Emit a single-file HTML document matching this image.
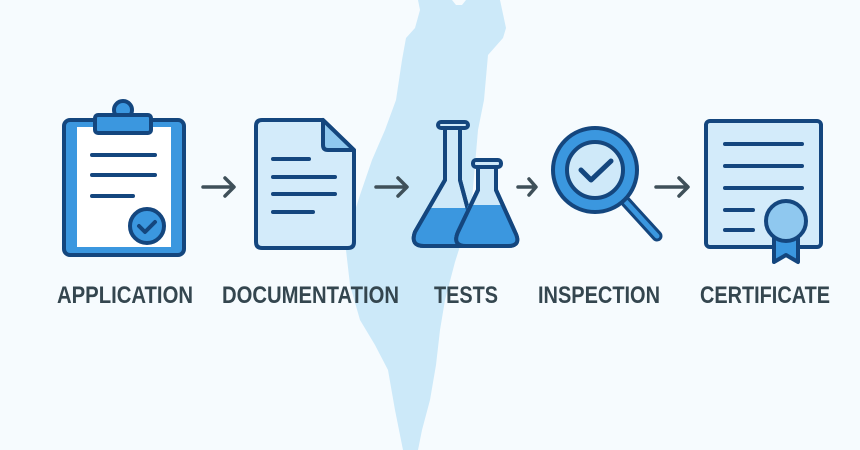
<!DOCTYPE html>
<html><head><meta charset="utf-8"><style>
html,body{margin:0;padding:0;background:#f6fbfe;}
svg{display:block}
text{font-family:"Liberation Sans",sans-serif;font-weight:bold;fill:#34464f;font-size:24px}
</style></head><body>
<svg width="860" height="450" viewBox="0 0 860 450" xmlns="http://www.w3.org/2000/svg">
<rect width="860" height="450" fill="#f6fbfe"/>
<path d="M418,0 L452,0 L456,5 L462,5 L466,0 L500,0 L506,28 L503,38 L488,55 L484,100 L478,130 L472,200 L462,240 L455,262 L445,300 L440,330 L436,365 L430,400 L422,430 L418,450 L403,450 L395,410 L388,370 L375,345 L360,320 L350,285 L346,250 L352,220 L360,195 L372,160 L385,130 L396,100 L402,60 L406,38 L415,28 L420,10 Z" fill="#cce9f9"/>
<g stroke="#14467e" stroke-width="4" stroke-linecap="round" stroke-linejoin="round">
<rect x="64" y="120" width="120" height="135" rx="6" fill="#3b97df"/>
<rect x="77" y="127" width="94" height="120" fill="#ffffff" stroke="none"/>
<circle cx="123" cy="110" r="9" fill="#3b97df"/>
<rect x="95" y="115" width="56" height="18" rx="3" fill="#3b97df"/>
<line x1="92" y1="155" x2="155" y2="155"/>
<line x1="92" y1="175" x2="155" y2="175"/>
<line x1="92" y1="196" x2="133" y2="196"/>
<circle cx="147" cy="226" r="17" fill="#3b97df"/>
<path d="M139,226 L145,232 L155,222" fill="none"/>
<path d="M262,120 L323,120 L354,150 L354,242 Q354,248 348,248 L262,248 Q256,248 256,242 L256,126 Q256,120 262,120 Z" fill="#d3ebfa"/>
<path d="M323,120 L323,145 Q323,150 328,150 L354,150 Z" fill="#8fc8ef"/>
<line x1="273" y1="159" x2="309" y2="159"/>
<line x1="273" y1="177" x2="335" y2="177"/>
<line x1="273" y1="194" x2="335" y2="194"/>
<line x1="273" y1="212" x2="313" y2="212"/>
<path d="M445,127 L445,180 L415,232 Q410,246 424,246 L468,246 Q480,246 474,232 L460,180 L460,127" fill="#cfe9f9"/>
<path d="M436,208 L469,208 L474,232 Q480,246 468,246 L424,246 Q410,246 415,232 L428,208 Z" fill="#3b97df" stroke="none"/>
<path d="M445,127 L445,180 L415,232 Q410,246 424,246 L468,246 Q480,246 474,232 L460,180 L460,127" fill="none"/>
<rect x="438" y="122" width="30" height="6" rx="3" fill="#cfe9f9"/>
<path d="M478,166 L478,190 L458,232 Q452,246 466,246 L508,246 Q522,246 515,232 L496,190 L496,166" fill="#cfe9f9"/>
<path d="M468,205 L503,205 L515,232 Q522,246 508,246 L466,246 Q452,246 458,232 Z" fill="#3b97df" stroke="none"/>
<path d="M478,166 L478,190 L458,232 Q452,246 466,246 L508,246 Q522,246 515,232 L496,190 L496,166" fill="none"/>
<rect x="473" y="160" width="28" height="7" rx="3" fill="#cfe9f9"/>
<line x1="626" y1="202" x2="657" y2="236" stroke-width="11"/>
<line x1="626" y1="202" x2="657" y2="236" stroke="#3b97df" stroke-width="5"/>
<circle cx="595" cy="170" r="42" fill="#3b97df"/>
<circle cx="595" cy="170" r="28" fill="#cfe9f9"/>
<path d="M581,170 L591,180 L611,161" fill="none" stroke-width="5"/>
<rect x="706" y="121" width="115" height="126" rx="4" fill="#d3ebfa"/>
<line x1="725" y1="144" x2="802" y2="144"/>
<line x1="725" y1="166" x2="802" y2="166"/>
<line x1="725" y1="188" x2="802" y2="188"/>
<line x1="725" y1="210" x2="753" y2="210"/>
<line x1="725" y1="230" x2="753" y2="230"/>
<path d="M774,238 L774,262 L786,255 L798,262 L798,238 Z" fill="#3b97df"/>
<circle cx="786" cy="221" r="20" fill="#8fc8ef"/>
</g>
<g stroke="#3f5059" stroke-width="3.5" fill="none" stroke-linecap="round" stroke-linejoin="round">
<path d="M203,187 L233,187 M225,178 L234,187 L225,196"/>
<path d="M376,187 L406,187 M398,178 L407,187 L398,196"/>
<path d="M518,187 L535,187 M529,179 L536,187 L529,195"/>
<path d="M656,187 L687,187 M679,178 L688,187 L679,196"/>
</g>
<text x="57" y="303" textLength="136" lengthAdjust="spacingAndGlyphs">APPLICATION</text>
<text x="222" y="303" textLength="177" lengthAdjust="spacingAndGlyphs">DOCUMENTATION</text>
<text x="434" y="303" textLength="64" lengthAdjust="spacingAndGlyphs">TESTS</text>
<text x="538" y="303" textLength="122" lengthAdjust="spacingAndGlyphs">INSPECTION</text>
<text x="700" y="303" textLength="130" lengthAdjust="spacingAndGlyphs">CERTIFICATE</text>
</svg>
</body></html>
